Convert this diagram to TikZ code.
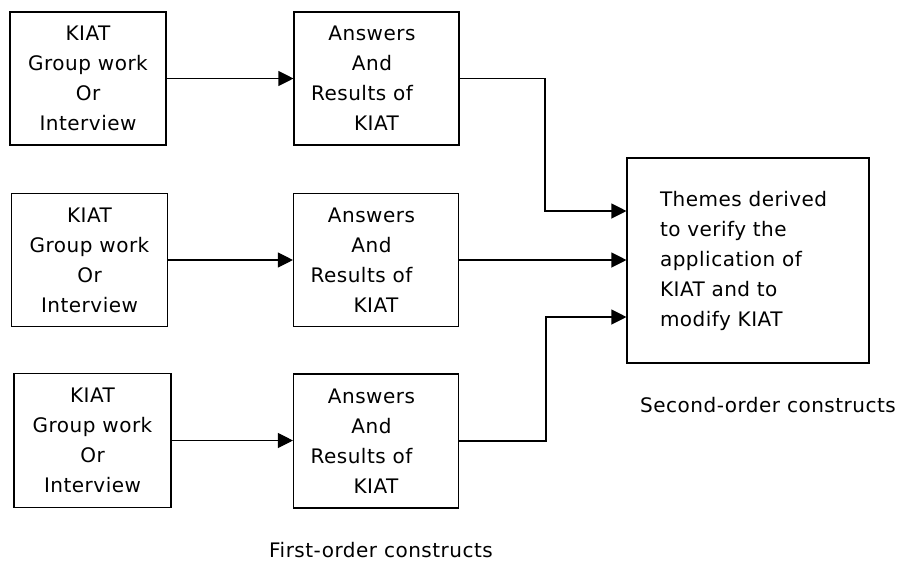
\documentclass[tikz,border=0pt]{standalone}
\usepackage{fontspec}
\setmainfont[LetterSpace=2.5]{DejaVu Sans}
\usetikzlibrary{arrows.meta}
\begin{document}
\begin{tikzpicture}[x=1pt,y=-1pt,
  txt/.style={font=\fontsize{20}{30}\selectfont},
  box/.style={txt, draw, line width=1.1pt, inner sep=0pt, align=center},
  srcbox/.style={box, minimum width=156pt, minimum height=133pt},
  resbox/.style={box, minimum width=165pt, minimum height=133pt},
  arr/.style={line width=1.1pt, -{Triangle[length=15pt,width=15pt]}}]
  \useasboundingbox (0,0) rectangle (901,563);

  % sources: KIAT sessions
  \node[srcbox] (a1) at (88,78.5) {KIAT\\Group work\\Or\\Interview};
  \node[srcbox] (a2) at (89.5,260) {KIAT\\Group work\\Or\\Interview};
  \node[srcbox, minimum width=157pt, minimum height=134pt] (a3) at (92.5,440.5) {KIAT\\Group work\\Or\\Interview};

  % first-order results
  \node[resbox] (b1) at (376.5,78.5) {Answers\hspace{9pt}\mbox{}\\And\hspace{9pt}\mbox{}\\Results of\hspace{29pt}\mbox{}\\KIAT};
  \node[resbox] (b2) at (376,260) {Answers\hspace{9pt}\mbox{}\\And\hspace{9pt}\mbox{}\\Results of\hspace{29pt}\mbox{}\\KIAT};
  \node[resbox, minimum height=134pt] (b3) at (376,441) {Answers\hspace{9pt}\mbox{}\\And\hspace{9pt}\mbox{}\\Results of\hspace{29pt}\mbox{}\\KIAT};

  % second-order themes
  \node[box, align=left, text width=176pt, minimum width=242pt, minimum height=205pt] (c) at (748,260.5)
    {Themes derived\\to verify the\\application of\\KIAT and to\\modify KIAT};

  % captions
  \node[txt] (second) at (768,405) {Second-order constructs};
  \node[txt] (first) at (381,550) {First-order constructs};

  % connectors
  \draw[arr] (a1) -- (b1);
  \draw[arr] (a2) -- (b2);
  \draw[arr] (a3.east) -- (b3.west |- a3.east);
  \draw[arr] (b1.east) -| (545,211) -- ([yshift=49.5pt]c.west);
  \draw[arr] (b2.east) -- (c.west |- b2.east);
  \draw[arr] (b3.east) -| (546,317) -- ([yshift=-56.5pt]c.west);
\end{tikzpicture}
\end{document}
